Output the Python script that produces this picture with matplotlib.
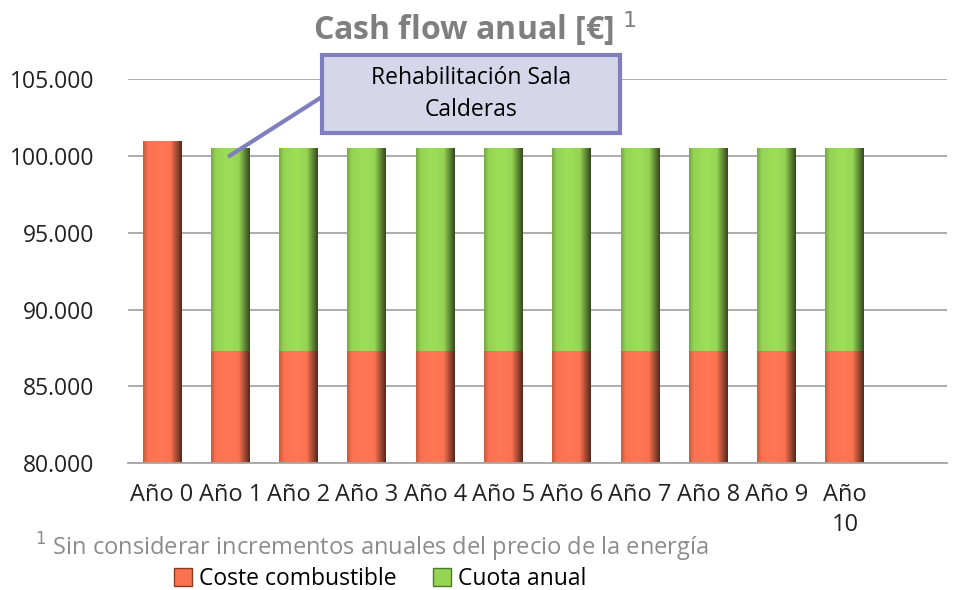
import numpy as np
import matplotlib.pyplot as plt
from matplotlib.colors import LinearSegmentedColormap, to_rgb
from matplotlib.patches import Rectangle

# Datos
anios = ['Año 0', 'Año 1', 'Año 2', 'Año 3', 'Año 4', 'Año 5',
         'Año 6', 'Año 7', 'Año 8', 'Año 9', 'Año\n10']
coste_combustible = [101000, 87300, 87300, 87300, 87300, 87300,
                     87300, 87300, 87300, 87300, 87300]
cuota_anual = [0, 13200, 13200, 13200, 13200, 13200,
               13200, 13200, 13200, 13200, 13200]

plt.rcParams['font.family'] = ['Open Sans', 'DejaVu Sans']

rojo = '#FA7250'
verde = '#96D454'

fig = plt.figure(figsize=(9.55, 5.9), dpi=100)
ax = fig.add_axes([0.134, 0.215, 0.858, 0.651])

x = np.arange(len(anios))
ancho = 0.57
y0 = 80000

def barra_sombreada(xc, base, alto, color):
    # barra con un degradado horizontal para imitar el bisel
    c = to_rgb(color)
    oscuro = tuple(v * 0.35 for v in c)
    medio = tuple(v * 0.8 for v in c)
    claro = tuple(min(1, v * 1.05) for v in c)
    cmap = LinearSegmentedColormap.from_list('b', [
        (0.0, medio), (0.12, c), (0.45, claro), (0.72, c), (1.0, oscuro)])
    grad = np.linspace(0, 1, 64).reshape(1, -1)
    ext = [xc - ancho / 2, xc + ancho / 2, base, base + alto]
    im = ax.imshow(grad, cmap=cmap, extent=ext, aspect='auto', zorder=2)
    r = Rectangle((ext[0], base), ancho, alto, facecolor='none', edgecolor='none')
    ax.add_patch(r)
    im.set_clip_path(r)

for i in x:
    barra_sombreada(i, y0, coste_combustible[i] - y0, rojo)
    if cuota_anual[i] > 0:
        barra_sombreada(i, coste_combustible[i], cuota_anual[i], verde)

ax.set_xlim(-0.5, 11.5)
ax.set_ylim(80000, 105000)
ax.set_yticks(range(80000, 105001, 5000))
ax.set_yticklabels([f'{v:,}'.replace(',', '.') for v in range(80000, 105001, 5000)])
ax.set_xticks(x)
ax.set_xticklabels(anios, linespacing=1.35, va='top')
ax.yaxis.grid(True, color='#A6A6A6', linewidth=1.3, zorder=0)
ax.set_axisbelow(True)
for s in ['left', 'right', 'top']:
    ax.spines[s].set_visible(False)
ax.spines['bottom'].set_color('#A6A6A6')
ax.spines['bottom'].set_linewidth(1.3)
ax.tick_params(axis='both', length=0, colors='#222222')
ax.tick_params(axis='y', pad=24, labelsize=16.5)
ax.tick_params(axis='x', pad=14, labelsize=17)

# Título
fig.text(0.497, 0.952, 'Cash flow anual [€] $^{1}$', ha='center', va='center',
         fontsize=23, fontweight='bold', color='#7F7F7F')

# Caja de anotación
ax.add_patch(Rectangle((2.34, 101500), 4.37, 5080, facecolor='#D6D6EA',
                       edgecolor='#7F7FBF', linewidth=3, clip_on=False, zorder=5))
ax.text(4.525, 104040, 'Rehabilitación Sala\nCalderas', ha='center', va='center',
        fontsize=16.5, color='black', linespacing=1.45, zorder=6)
ax.plot([0.965, 2.34], [99935, 103840], color='#7F7FBF', linewidth=3,
        clip_on=False, zorder=4, solid_capstyle='butt')

# Nota al pie
fig.text(0.037, 0.073, '$^{1}$ Sin considerar incrementos anuales del precio de la energía',
         fontsize=17, color='#8C8C8C', va='center')

# Leyenda
h1 = Rectangle((0, 0), 1, 1, facecolor=rojo, edgecolor='#8A3A25')
h2 = Rectangle((0, 0), 1, 1, facecolor=verde, edgecolor='#4E7A26')
fig.legend([h1, h2], ['Coste combustible', 'Cuota anual'], loc='center',
           bbox_to_anchor=(0.398, 0.019), ncol=2, frameon=False, fontsize=16.5,
           handlelength=0.8, handleheight=0.8, handletextpad=0.3, columnspacing=1.6)

fig.savefig('out.png', dpi=100)
